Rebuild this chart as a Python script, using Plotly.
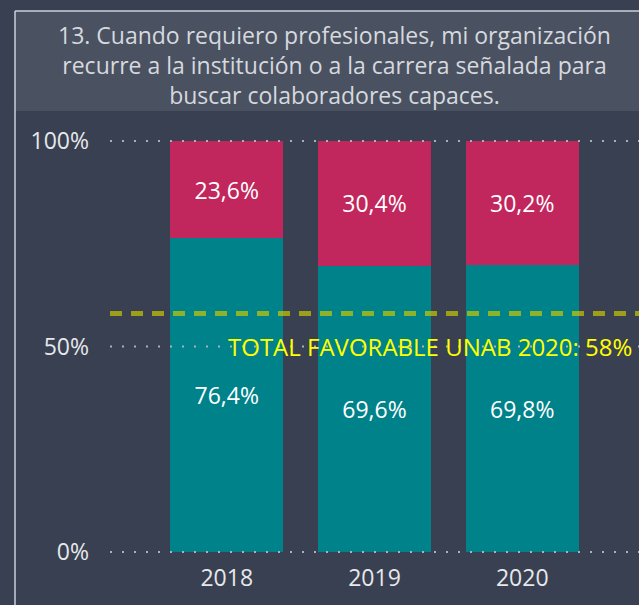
import plotly.graph_objects as go

years = ["2018", "2019", "2020"]
favorable = [76.4, 69.6, 69.8]
unfavorable = [23.6, 30.4, 30.2]
favorable_labels = ["76,4%", "69,6%", "69,8%"]
unfavorable_labels = ["23,6%", "30,4%", "30,2%"]
grid_values = [0, 50, 100]
grid_labels = ["0%", "50%", "100%"]
total_favorable = 58
title_text = ("13. Cuando requiero profesionales, mi organización<br>"
              "recurre a la institución o a la carrera señalada para<br>"
              "buscar colaboradores capaces.")
ref_text = "TOTAL FAVORABLE UNAB 2020: 58%"

W, H = 639, 605
L, R, T, B = 110, 0, 141, 53
PW, PH = W - L - R, H - T - B


def px(x):
    return (x - L) / PW


def py(y):
    return (H - B - y) / PH


font_family = "Segoe UI, Open Sans, sans-serif"
bg = "#394051"
fs = 23

fig = go.Figure()

fig.add_trace(go.Bar(
    x=years, y=favorable, text=favorable_labels,
    marker_color="#00828a", marker_line_width=0,
    textposition="inside", insidetextanchor="middle",
    textfont=dict(color="white", size=fs), name="Favorable",
))
fig.add_trace(go.Bar(
    x=years, y=unfavorable, text=unfavorable_labels,
    marker_color="#c1265c", marker_line_width=0,
    textposition="inside", insidetextanchor="middle",
    textfont=dict(color="white", size=fs), name="Desfavorable",
))

shapes = [
    # title box
    dict(type="rect", xref="paper", yref="paper",
         x0=px(15), x1=px(W + 5), y0=py(111), y1=py(11),
         fillcolor="#4a5262", line_width=0, layer="below"),
    # frame lines
    dict(type="line", xref="paper", yref="paper",
         x0=px(15), x1=px(15), y0=py(H + 5), y1=py(11),
         line=dict(color="#c9d1de", width=1.5)),
    dict(type="line", xref="paper", yref="paper",
         x0=px(15), x1=px(W + 5), y0=py(11), y1=py(11),
         line=dict(color="#c9d1de", width=1.5)),
]
# dotted gridlines drawn above the bars
for v in grid_values:
    shapes.append(dict(type="line", xref="paper", yref="paper",
                       x0=0, x1=1, y0=v / 100, y1=v / 100, layer="above",
                       line=dict(color="#aab0ba", width=2, dash="2px,10px")))
# reference line
shapes.append(dict(type="line", xref="paper", yref="y",
                   x0=0, x1=1, y0=total_favorable, y1=total_favorable,
                   line=dict(color="rgba(200,200,0,0.7)", width=5, dash="12px,9px")))

annotations = [
    dict(text=title_text, xref="paper", yref="paper",
         x=px(334), y=py(65), xanchor="center", yanchor="middle",
         showarrow=False, align="center",
         font=dict(size=fs, color="#d6d9de", family=font_family)),
    dict(text=ref_text, xref="paper", yref="y",
         x=px(634), y=50, xanchor="right", yanchor="middle",
         showarrow=False,
         font=dict(size=24, color="#ffff00", family=font_family)),
]

fig.update_layout(
    width=W, height=H,
    margin=dict(l=L, r=R, t=T, b=B, pad=0),
    paper_bgcolor=bg, plot_bgcolor=bg,
    barmode="stack", bargap=0.236,
    showlegend=False,
    font=dict(family=font_family, color="#e6e8eb", size=fs),
    shapes=shapes, annotations=annotations,
    xaxis=dict(range=[-0.79, 2.79], showgrid=False, showline=False,
               zeroline=False, ticks="", ticklabelstandoff=10,
               tickfont=dict(size=fs, color="#e6e8eb")),
    yaxis=dict(range=[0, 100], tickvals=grid_values, ticktext=grid_labels,
               showgrid=False, zeroline=False, showline=False,
               ticks="", ticklabelstandoff=20,
               tickfont=dict(size=fs, color="#e6e8eb")),
)

fig.write_html("out.html", config={"displayModeBar": False},
               post_script="document.body.style.margin='0';")
